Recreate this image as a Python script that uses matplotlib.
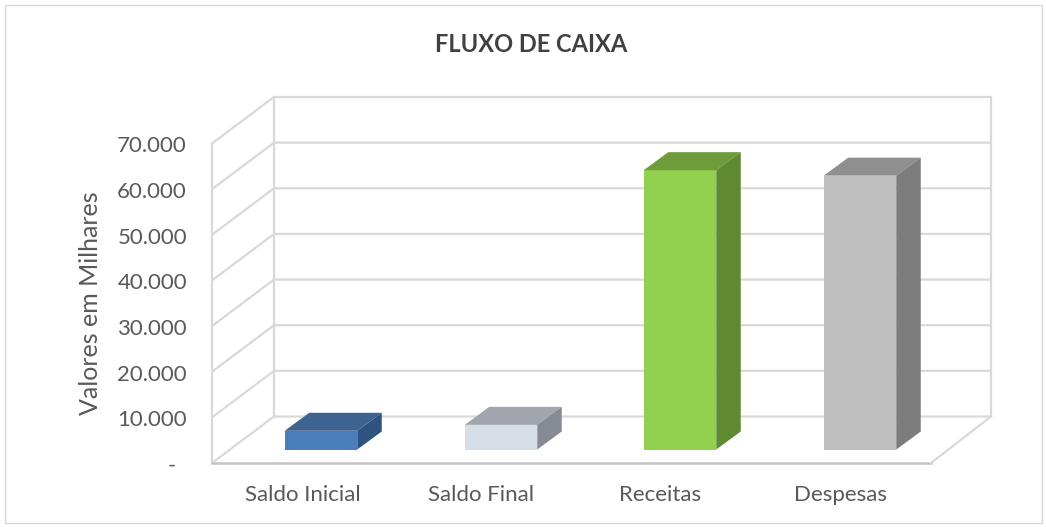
import matplotlib
matplotlib.use("Agg")
import matplotlib.pyplot as plt
from matplotlib.patches import Polygon, Rectangle

categories = ["Saldo Inicial", "Saldo Final", "Receitas", "Despesas"]
values = [4100, 5400, 61200, 60000]
front = ["#4a7ebb", "#d5dde6", "#92d050", "#bfbfbf"]
top = ["#3d6390", "#a0a5ae", "#6e9c3a", "#8f8f8f"]
side = ["#2f5380", "#868b93", "#5f8a32", "#7c7c7c"]
ticks = [0, 10000, 20000, 30000, 40000, 50000, 60000, 70000]
ticklabels = ["-", "10.000", "20.000", "30.000", "40.000", "50.000", "60.000", "70.000"]

plt.rcParams['font.family'] = ['Lato', 'DejaVu Sans']
W, H = 1046, 527
fig = plt.figure(figsize=(W/100, H/100), dpi=100)
ax = fig.add_axes([0, 0, 1, 1])
ax.set_xlim(0, W)
ax.set_ylim(H, 0)
ax.axis('off')

ax.add_patch(Rectangle((4.5, 4.5), 1037, 518, fill=False, ec='#d9d9d9', lw=1))
ax.text(531, 44, "FLUXO DE CAIXA", ha='center', va='center', fontsize=17, fontweight='bold', color='#404040')

# value to pixel on the front plane
x0, x1 = 212, 931
y0, scale = 463, (463 - 143.5) / 70000
dx, dy = 62, -46.5
xr = x1 + 60
grid = '#d9d9d9'
def vy(v):
    return y0 - v * scale

for t, lab in zip(ticks, ticklabels):
    y = vy(t)
    ax.plot([x0, x0 + dx, xr], [y, y + dy, y + dy], color=grid, lw=1.6, solid_capstyle='round', zorder=1)
    ax.text(187 if t else 172, y + 3, lab, ha='right' if t else 'center', va='center', fontsize=16, color='#595959')
ax.plot([x0, x0], [vy(0), vy(70000)], color=grid, lw=1.6, zorder=1)
ax.plot([x0 + dx, x0 + dx], [vy(0) + dy, vy(70000) + dy], color=grid, lw=1.6, zorder=1)
ax.plot([xr, xr], [vy(0) + dy, vy(70000) + dy], color=grid, lw=1.6, zorder=1)
ax.plot([x0, x1], [vy(0), vy(0)], color='#c4c4c4', lw=1.8, zorder=1)
ax.plot([x1, xr], [vy(0), vy(0) + dy], color=grid, lw=1.6, zorder=1)

ax.text(90, 303, "Valores em Milhares", rotation=90, ha='center', va='center', fontsize=18, color='#595959')

bw, bd, bh = 72.5, 24.5, 18
centers = [321, 501, 680, 860]
label_centers = [302.5, 481, 660.5, 840]
base = 449.5
for c, lc, name, v, f, t_, s in zip(centers, label_centers, categories, values, front, top, side):
    l = c - bw/2
    r = l + bw
    yt = base - v * scale
    ax.add_patch(Polygon([(l, yt), (r, yt), (r, base), (l, base)], fc=f, ec='none', zorder=3))
    ax.add_patch(Polygon([(l, yt), (l + bd, yt - bh), (r + bd, yt - bh), (r, yt)], fc=t_, ec='none', zorder=3))
    ax.add_patch(Polygon([(r, yt), (r + bd, yt - bh), (r + bd, base - bh), (r, base)], fc=s, ec='none', zorder=3))
    ax.text(lc, 495, name, ha='center', va='center', fontsize=16, color='#595959')

fig.savefig("out.png", dpi=100)
